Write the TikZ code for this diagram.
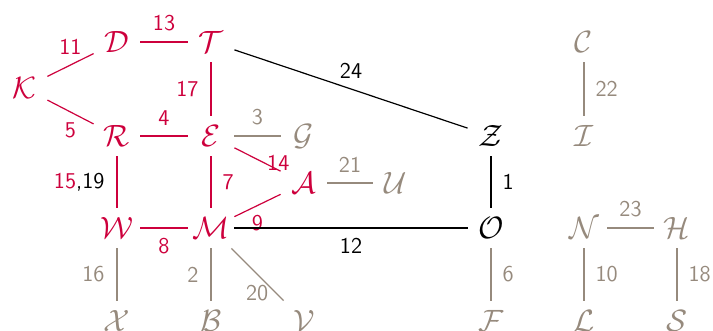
\RequirePackage{fix-cm}
\documentclass[tikz,border=0pt]{standalone}
\definecolor{cred}{RGB}{205,0,60}
\definecolor{cgrey}{RGB}{150,138,125}
\begin{document}
\begin{tikzpicture}[x=0.5pt,y=-0.5pt,
 v/.style={inner sep=0pt, minimum width=23pt, minimum height=20pt, font=\fontsize{15.4}{18}\selectfont},
 e/.style={line width=0.6pt},
 lb/.style={font=\fontsize{11.3}{13}\selectfont\sffamily, inner sep=3pt}]
\clip (0,0) rectangle (713,331);
% nodes
\node[v, text=cred] (K) at (24,88) {$\mathcal{K}$};
\node[v, text=cred] (D) at (117,42) {$\mathcal{D}$};
\node[v, text=cred] (T) at (211,42) {$\mathcal{T}$};
\node[v, text=cred] (R) at (117,136) {$\mathcal{R}$};
\node[v, text=cred] (E) at (211,136) {$\mathcal{E}$};
\node[v, text=cgrey] (G) at (304,136) {$\mathcal{G}$};
\node[v, text=cred] (A) at (304,183) {$\mathcal{A}$};
\node[v, text=cgrey] (U) at (396,183) {$\mathcal{U}$};
\node[v, text=cred] (W) at (117,228) {$\mathcal{W}$};
\node[v, text=cred] (M) at (211,228) {$\mathcal{M}$};
\node[v, text=cgrey] (X) at (117,321) {$\mathcal{X}$};
\node[v, text=cgrey] (B) at (211,321) {$\mathcal{B}$};
\node[v, text=cgrey] (V) at (304,321) {$\mathcal{V}$};
\node[v, text=black] (Z) at (491,136) {$\mathcal{Z}$};
\node[v, text=black] (O) at (491,228) {$\mathcal{O}$};
\node[v, text=cgrey] (F) at (491,321) {$\mathcal{F}$};
\node[v, text=cgrey] (C) at (584,42) {$\mathcal{C}$};
\node[v, text=cgrey] (I) at (584,136) {$\mathcal{I}$};
\node[v, text=cgrey] (N) at (584,228) {$\mathcal{N}$};
\node[v, text=cgrey] (H) at (677,228) {$\mathcal{H}$};
\node[v, text=cgrey] (L) at (584,321) {$\mathcal{L}$};
\node[v, text=cgrey] (S) at (677,321) {$\mathcal{S}$};
% red edges
\draw[e, cred] (K) -- node[lb, midway, above=2pt] {11} (D);
\draw[e, cred] (D) -- node[lb, midway, above=2pt] {13} (T);
\draw[e, cred] (T) -- node[lb, midway, left=3pt] {17} (E);
\draw[e, cred] (K) -- node[lb, midway, below=2pt] {5} (R);
\draw[e, cred] (R) -- node[lb, midway, above=2pt] {4} (E);
\draw[e, cred] (E) -- node[lb, pos=0.95, above=-3.5pt] {14} (A);
\draw[e, cred] (E) -- node[lb, midway, right=2.5pt] {7} (M);
\draw[e, cred] (M) -- node[lb, midway, below=1.5pt] {9} (A);
\draw[e, cred] (R) -- node[lb, midway, left=3pt] {15\textcolor{black}{,19}} (W);
\draw[e, cred] (W) -- node[lb, midway, below=2pt] {8} (M);
% black edges
\draw[e, black] (T) -- node[lb, midway, above=2pt] {24} (Z);
\draw[e, black] (M) -- node[lb, midway, below=2pt] {12} (O);
\draw[e, black] (Z) -- node[lb, midway, right=2.5pt] {1} (O);
% grey edges
\draw[e, cgrey] (E) -- node[lb, midway, above=2pt] {3} (G);
\draw[e, cgrey] (A) -- node[lb, midway, above=2pt] {21} (U);
\draw[e, cgrey] (W) -- node[lb, midway, left=3pt] {16} (X);
\draw[e, cgrey] (M) -- node[lb, midway, left=3pt] {2} (B);
\draw[e, cgrey] (M) -- node[lb, pos=0.85, left=0.5pt] {20} (V);
\draw[e, cgrey] (O) -- node[lb, midway, right=2.5pt] {6} (F);
\draw[e, cgrey] (C) -- node[lb, midway, right=2.5pt] {22} (I);
\draw[e, cgrey] (N) -- node[lb, midway, above=2pt] {23} (H);
\draw[e, cgrey] (N) -- node[lb, midway, right=2.5pt] {10} (L);
\draw[e, cgrey] (H) -- node[lb, midway, right=2.5pt] {18} (S);
\end{tikzpicture}
\end{document}
